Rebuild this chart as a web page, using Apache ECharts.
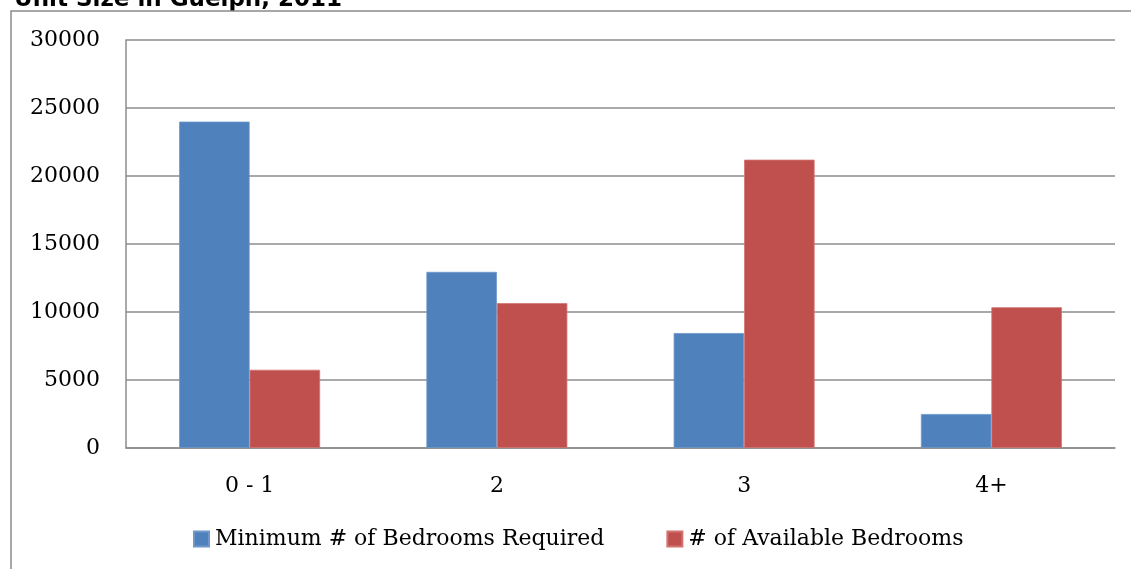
<!DOCTYPE html>
<html>
<head>
<meta charset="utf-8">
<script src="https://cdn.jsdelivr.net/npm/echarts@6/dist/echarts.min.js"></script>
<style>
  html, body { margin: 0; padding: 0; background: #fff; }
  #chart { width: 1131px; height: 569px; }
</style>
</head>
<body>
<div id="chart"></div>
<script>
// Bedroom need vs. availability by unit size
const categories = ['0 - 1', '2', '3', '4+'];
const requiredBedrooms = [24000, 12950, 8450, 2500];
const availableBedrooms = [5750, 10650, 21200, 10350];
const yTicks = { min: 0, max: 30000, interval: 5000 };

const serif = '"DejaVu Serif", serif';

const chart = echarts.init(document.getElementById('chart'), null, { renderer: 'canvas' });
chart.setOption({
  backgroundColor: '#ffffff',
  animation: false,
  graphic: [
    {
      type: 'text',
      x: 14,
      y: 12,
      style: {
        text: 'Unit Size in Guelph, 2011',
        font: 'bold 23px "DejaVu Sans", sans-serif',
        fill: '#000',
        verticalAlign: 'bottom'
      },
      silent: true
    },
    {
      type: 'rect',
      shape: { x: 11, y: 11, width: 1300, height: 700 },
      style: { fill: 'none', stroke: '#8a8a8a', lineWidth: 1.5 },
      silent: true
    }
  ],
  grid: { left: 126, right: 16, top: 40, bottom: 121, containLabel: false },
  legend: {
    bottom: 14,
    left: 188,
    itemWidth: 15,
    itemHeight: 15,
    itemGap: 62,
    icon: 'rect',
    textStyle: { fontFamily: serif, fontSize: 22, color: '#000', padding: [0, 0, 0, 1] },
    data: ['Minimum # of Bedrooms Required', '# of Available Bedrooms']
  },
  xAxis: {
    type: 'category',
    data: categories,
    axisLine: { lineStyle: { color: '#8c8c8c', width: 1.5 } },
    axisTick: { show: false },
    axisLabel: { fontFamily: serif, fontSize: 22, color: '#000', margin: 27 },
    splitLine: { show: false }
  },
  yAxis: {
    type: 'value',
    min: yTicks.min,
    max: yTicks.max,
    interval: yTicks.interval,
    axisLine: { show: true, lineStyle: { color: '#8c8c8c', width: 1.5 } },
    axisTick: { show: false },
    axisLabel: {
      fontFamily: serif, fontSize: 22, color: '#000', margin: 26,
      padding: [6, 0, 0, 0],
      formatter: v => String(v)
    },
    splitLine: { lineStyle: { color: '#8c8c8c', width: 1.5 } }
  },
  series: [
    {
      name: 'Minimum # of Bedrooms Required',
      type: 'bar',
      data: requiredBedrooms,
      barGap: '0%',
      barCategoryGap: '43%',
      itemStyle: { color: '#4F81BD', borderColor: '#6f97c9', borderWidth: 0.8 }
    },
    {
      name: '# of Available Bedrooms',
      type: 'bar',
      data: availableBedrooms,
      itemStyle: { color: '#C0504D', borderColor: '#d27370', borderWidth: 0.8 }
    }
  ]
});
</script>
</body>
</html>
